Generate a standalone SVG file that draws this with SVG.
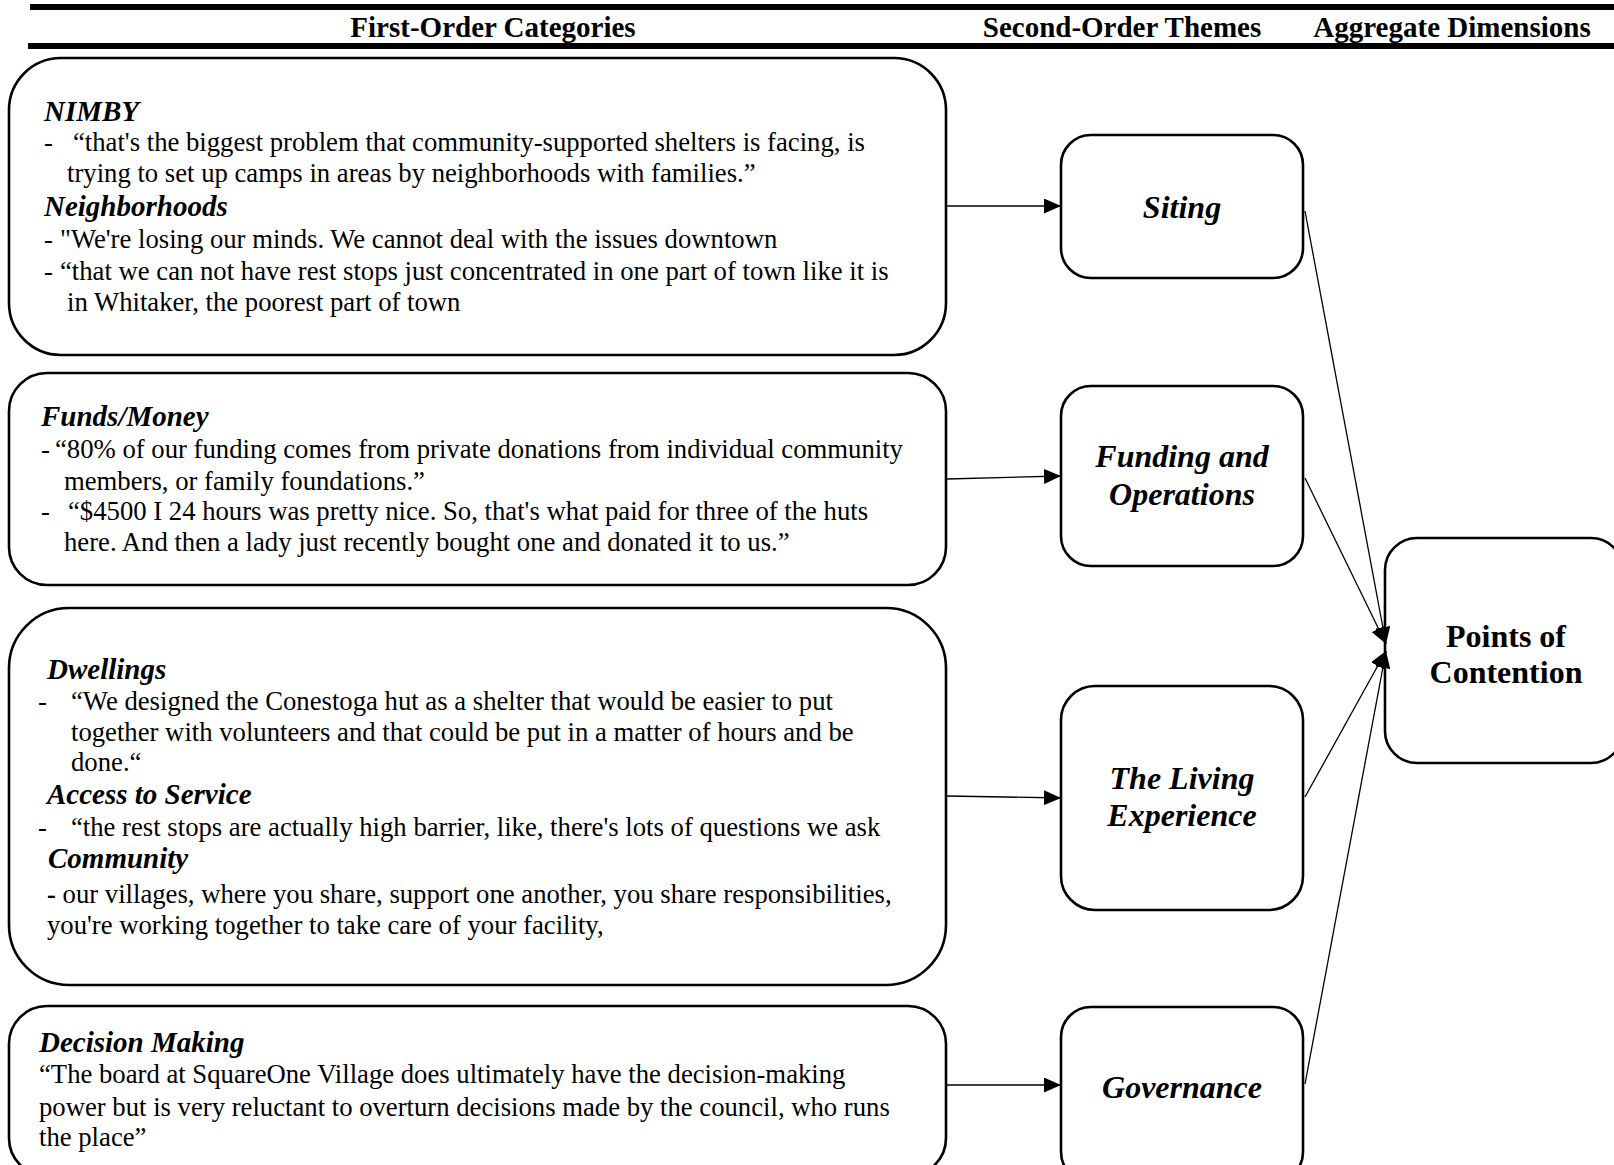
<svg xmlns="http://www.w3.org/2000/svg" width="1614" height="1165" viewBox="0 0 1614 1165">
  <style>
    .box { fill: #ffffff; stroke: #000000; stroke-width: 2.6; }
    .hdr { font-family: "Liberation Serif", "Times New Roman", serif; font-weight: bold; font-size: 29px; fill: #000; }
    .cat { font-family: "Liberation Serif", "Times New Roman", serif; font-weight: bold; font-style: italic; font-size: 29px; fill: #000; }
    .txt { font-family: "Liberation Serif", "Times New Roman", serif; font-size: 26.7px; fill: #000; }
    .theme { font-family: "Liberation Serif", "Times New Roman", serif; font-weight: bold; font-style: italic; font-size: 32px; fill: #000; text-anchor: middle; }
    .dim { font-family: "Liberation Serif", "Times New Roman", serif; font-weight: bold; font-size: 32px; fill: #000; text-anchor: middle; }
    .conn { stroke: #000000; stroke-width: 1.3; fill: none; marker-end: url(#arrow); }
  </style>
  <defs>
    <marker id="arrow" markerUnits="userSpaceOnUse" markerWidth="17" markerHeight="15" refX="17" refY="7.5" orient="auto">
      <path d="M0,0 L17,7.5 L0,15 Z" fill="#000000"/>
    </marker>
  </defs>

  <rect width="1614" height="1165" fill="#ffffff"/>

  <!-- header rules and column titles -->
  <g id="header">
    <rect x="30" y="4" width="1584" height="6" fill="#000"/>
    <rect x="28" y="43" width="1586" height="6" fill="#000"/>
    <text class="hdr" x="493" y="37" text-anchor="middle">First-Order Categories</text>
    <text class="hdr" x="1122" y="37" text-anchor="middle">Second-Order Themes</text>
    <text class="hdr" x="1452" y="37" text-anchor="middle">Aggregate Dimensions</text>
  </g>

  <!-- first-order categories -->
  <g id="cat-siting">
    <rect class="box" x="9" y="58" width="937" height="297" rx="52" ry="52"/>
    <text class="cat" x="44" y="121">NIMBY</text>
    <text class="txt" x="44" y="151">-</text>
    <text class="txt" x="73" y="151">“that's the biggest problem that community-supported shelters is facing, is</text>
    <text class="txt" x="67" y="182">trying to set up camps in areas by neighborhoods with families.”</text>
    <text class="cat" x="44" y="216">Neighborhoods</text>
    <text class="txt" x="44" y="248">-</text>
    <text class="txt" x="60" y="248">"We're losing our minds. We cannot deal with the issues downtown</text>
    <text class="txt" x="44" y="280">-</text>
    <text class="txt" x="60" y="280">“that we can not have rest stops just concentrated in one part of town like it is</text>
    <text class="txt" x="67" y="311">in Whitaker, the poorest part of town</text>
  </g>

  <g id="cat-funding">
    <rect class="box" x="9" y="373" width="937" height="212" rx="38" ry="38"/>
    <text class="cat" x="41" y="426">Funds/Money</text>
    <text class="txt" x="41" y="458">-</text>
    <text class="txt" x="55" y="458">“80% of our funding comes from private donations from individual community</text>
    <text class="txt" x="64" y="490">members, or family foundations.”</text>
    <text class="txt" x="41" y="520">-</text>
    <text class="txt" x="68" y="520">“$4500 I 24 hours was pretty nice. So, that's what paid for three of the huts</text>
    <text class="txt" x="64" y="551">here. And then a lady just recently bought one and donated it to us.”</text>
  </g>

  <g id="cat-living">
    <rect class="box" x="9" y="608" width="937" height="377" rx="60" ry="60"/>
    <text class="cat" x="47" y="679">Dwellings</text>
    <text class="txt" x="38" y="710">-</text>
    <text class="txt" x="71" y="710">“We designed the Conestoga hut as a shelter that would be easier to put</text>
    <text class="txt" x="71" y="741">together with volunteers and that could be put in a matter of hours and be</text>
    <text class="txt" x="71" y="771">done.“</text>
    <text class="cat" x="47" y="804">Access to Service</text>
    <text class="txt" x="38" y="836">-</text>
    <text class="txt" x="71" y="836">“the rest stops are actually high barrier, like, there's lots of questions we ask</text>
    <text class="cat" x="48" y="868">Community</text>
    <text class="txt" x="47" y="903"><tspan font-weight="bold">-</tspan> our villages, where you share, support one another, you share responsibilities,</text>
    <text class="txt" x="47" y="934">you're working together to take care of your facility,</text>
  </g>

  <g id="cat-governance">
    <rect class="box" x="9" y="1006" width="937" height="170" rx="38" ry="38"/>
    <text class="cat" x="39" y="1052">Decision Making</text>
    <text class="txt" x="39" y="1083">“The board at SquareOne Village does ultimately have the decision-making</text>
    <text class="txt" x="39" y="1116">power but is very reluctant to overturn decisions made by the council, who runs</text>
    <text class="txt" x="39" y="1146">the place”</text>
  </g>

  <!-- second-order themes -->
  <g id="theme-siting">
    <rect class="box" x="1061" y="135" width="242" height="143" rx="30" ry="30"/>
    <text class="theme" x="1182" y="218">Siting</text>
  </g>
  <g id="theme-funding">
    <rect class="box" x="1061" y="386" width="242" height="180" rx="30" ry="30"/>
    <text class="theme" x="1182" y="467">Funding and</text>
    <text class="theme" x="1182" y="505">Operations</text>
  </g>
  <g id="theme-living">
    <rect class="box" x="1061" y="686" width="242" height="224" rx="34" ry="34"/>
    <text class="theme" x="1182" y="789">The Living</text>
    <text class="theme" x="1182" y="826">Experience</text>
  </g>
  <g id="theme-governance">
    <rect class="box" x="1061" y="1007" width="242" height="175" rx="30" ry="30"/>
    <text class="theme" x="1182" y="1098">Governance</text>
  </g>

  <!-- aggregate dimension -->
  <g id="dim-contention">
    <rect class="box" x="1385" y="538" width="238" height="225" rx="32" ry="32"/>
    <text class="dim" x="1506" y="647">Points of</text>
    <text class="dim" x="1506" y="683">Contention</text>
  </g>

  <!-- connectors -->
  <g id="connectors">
    <line class="conn" x1="947" y1="206" x2="1061" y2="206"/>
    <line class="conn" x1="947" y1="479" x2="1061" y2="476"/>
    <line class="conn" x1="947" y1="796" x2="1061" y2="798"/>
    <line class="conn" x1="947" y1="1085" x2="1061" y2="1085"/>
    <line class="conn" x1="1305" y1="211" x2="1386" y2="644"/>
    <line class="conn" x1="1305" y1="478" x2="1386" y2="644"/>
    <line class="conn" x1="1305" y1="797" x2="1386" y2="651"/>
    <line class="conn" x1="1305" y1="1084" x2="1386" y2="651"/>
  </g>
</svg>
